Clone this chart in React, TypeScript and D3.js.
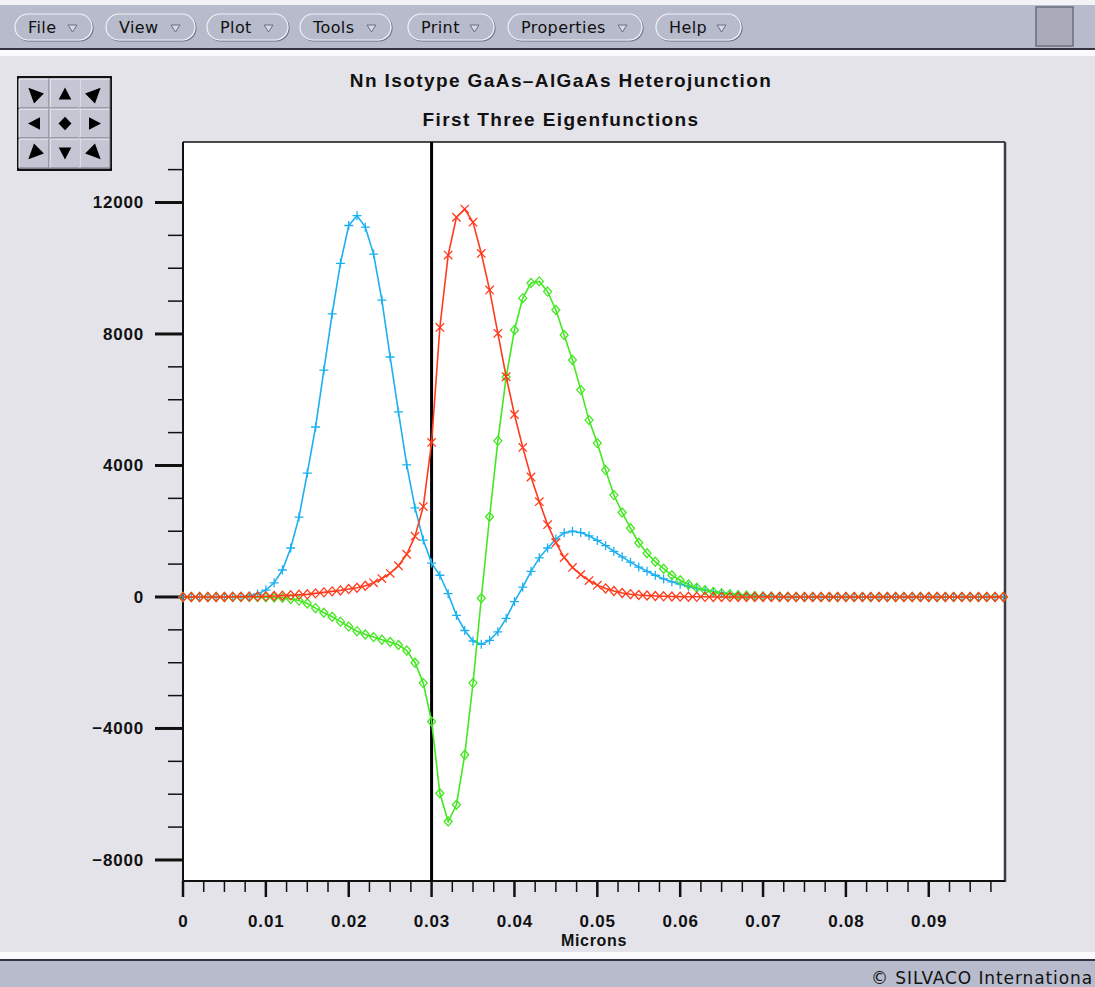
import React, { useEffect, useRef } from "react";
import * as d3 from "d3";

// sample positions (microns)
const microns = [
  0, 0.001, 0.002, 0.003, 0.004, 0.005, 0.006, 0.007, 0.008, 0.009,
  0.01, 0.011, 0.012, 0.013, 0.014, 0.015, 0.016, 0.017, 0.018, 0.019,
  0.02, 0.021, 0.022, 0.023, 0.024, 0.025, 0.026, 0.027, 0.028, 0.029,
  0.03, 0.031, 0.032, 0.033, 0.034, 0.035, 0.036, 0.037, 0.038, 0.039,
  0.04, 0.041, 0.042, 0.043, 0.044, 0.045, 0.046, 0.047, 0.048, 0.049,
  0.05, 0.051, 0.052, 0.053, 0.054, 0.055, 0.056, 0.057, 0.058, 0.059,
  0.06, 0.061, 0.062, 0.063, 0.064, 0.065, 0.066, 0.067, 0.068, 0.069,
  0.07, 0.071, 0.072, 0.073, 0.074, 0.075, 0.076, 0.077, 0.078, 0.079,
  0.08, 0.081, 0.082, 0.083, 0.084, 0.085, 0.086, 0.087, 0.088, 0.089,
  0.09, 0.091, 0.092, 0.093, 0.094, 0.095, 0.096, 0.097, 0.098, 0.099,
];

// first eigenfunction (blue, +)
const blueValues = [
  0, 0, 0, 0, 0, 0, 0, 5, 30, 90,
  210, 430, 820, 1490, 2430, 3770, 5170, 6900, 8610, 10150,
  11300, 11600, 11250, 10430, 9030, 7300, 5630, 4020, 2710, 1730,
  1030, 660, 100, -560, -1020, -1340, -1440, -1320, -1060, -650,
  -140, 300, 780, 1190, 1490, 1760, 1950, 2000, 1960, 1860,
  1720, 1560, 1390, 1220, 1060, 910, 780, 660, 550, 460,
  390, 320, 260, 210, 165, 130, 100, 75, 55, 40,
  30, 20, 12, 8, 5, 0, 0, 0, 0, 0,
  0, 0, 0, 0, 0, 0, 0, 0, 0, 0,
  0, 0, 0, 0, 0, 0, 0, 0, 0, 0,
];

// second eigenfunction (red, x)
const redValues = [
  0, 0, 0, 0, 0, 0, 5, 5, 10, 15,
  20, 30, 40, 50, 65, 80, 110, 140, 170, 200,
  240, 280, 340, 430, 560, 720, 950, 1300, 1850, 2750,
  4700, 8200, 10400, 11550, 11800, 11400, 10450, 9340, 8020, 6700,
  5550, 4550, 3650, 2900, 2200, 1650, 1200, 900, 680, 500,
  360, 260, 180, 120, 85, 60, 45, 30, 20, 15,
  10, 8, 5, 5, 0, 0, 0, 0, 0, 0,
  0, 0, 0, 0, 0, 0, 0, 0, 0, 0,
  0, 0, 0, 0, 0, 0, 0, 0, 0, 0,
  0, 0, 0, 0, 0, 0, 0, 0, 0, 0,
];

// third eigenfunction (green, diamond)
const greenValues = [
  0, 0, 0, 0, 0, 0, 0, 0, 0, -5,
  -10, -15, -25, -60, -110, -200, -340, -480, -600, -750,
  -900, -1040, -1140, -1220, -1300, -1370, -1460, -1630, -2000, -2620,
  -3790, -5970, -6830, -6320, -4800, -2620, -40, 2440, 4750, 6690,
  8120, 9090, 9550, 9600, 9290, 8730, 7970, 7210, 6300, 5380,
  4680, 3860, 3100, 2570, 2090, 1650, 1330, 1070, 860, 660,
  510, 380, 280, 205, 150, 110, 80, 55, 40, 28,
  18, 12, 8, 5, 0, 0, 0, 0, 0, 0,
  0, 0, 0, 0, 0, 0, 0, 0, 0, 0,
  0, 0, 0, 0, 0, 0, 0, 0, 0, 0,
];

const xTickValues = [0, 0.01, 0.02, 0.03, 0.04, 0.05, 0.06, 0.07, 0.08, 0.09];
const xTickLabels = ["0", "0.01", "0.02", "0.03", "0.04", "0.05", "0.06", "0.07", "0.08", "0.09"];
const yTickValues = [-8000, -4000, 0, 4000, 8000, 12000];
const yTickLabels = ["\u22128000", "\u22124000", "0", "4000", "8000", "12000"];
const junction = 0.03;

const menuLabels = ["File", "View", "Plot", "Tools", "Print", "Properties", "Help"];

const W = 1095;
const H = 987;
const panelBg = "#e4e3ea";
const barBg = "#b7bbcc";

const App = () => {
  const ref = useRef<SVGSVGElement>(null);

  useEffect(() => {
    const svg = d3.select(ref.current);
    svg.selectAll("*").remove();

    // window chrome
    svg.append("rect").attr("width", W).attr("height", H).attr("fill", panelBg);
    svg.append("rect").attr("width", W).attr("height", 5).attr("fill", "#f3f3f7");
    svg.append("rect").attr("y", 5).attr("width", W).attr("height", 43).attr("fill", barBg);
    svg.append("rect").attr("y", 48).attr("width", W).attr("height", 2).attr("fill", "#33343f");
    svg.append("rect").attr("y", 50).attr("width", W).attr("height", 6).attr("fill", "#fbfbfd");
    svg.append("rect").attr("y", 952).attr("width", W).attr("height", 7).attr("fill", "#fbfbfd");
    svg.append("rect").attr("y", 959).attr("width", W).attr("height", 2).attr("fill", "#33343f");
    svg.append("rect").attr("y", 961).attr("width", W).attr("height", H - 961).attr("fill", barBg);

    // menu buttons
    const menuLeft = [15, 106, 207, 300, 408, 508, 656];
    const menuRight = [92, 195, 288, 391, 494, 642, 741];
    const menus = svg.append("g");
    menuLabels.forEach((label, i) => {
      const l = menuLeft[i];
      const r = menuRight[i];
      menus.append("rect").attr("x", l + 1).attr("y", 15).attr("width", r - l).attr("height", 26)
        .attr("rx", 13).attr("fill", "none").attr("stroke", "#6d7185").attr("stroke-width", 1.2);
      menus.append("rect").attr("x", l).attr("y", 14).attr("width", r - l).attr("height", 26)
        .attr("rx", 13).attr("fill", barBg).attr("stroke", "#f2f3f8").attr("stroke-width", 1.2);
      menus.append("text").attr("x", l + 13).attr("y", 33).text(label)
        .attr("font-family", "DejaVu Sans").attr("font-size", 16).attr("letter-spacing", 0.4).attr("fill", "#111");
      menus.append("path")
        .attr("d", `M${r - 24},25 L${r - 15},25 L${r - 19.5},32 Z`)
        .attr("fill", "#d6d8e3").attr("stroke", "#6a6e82").attr("stroke-width", 1);
    });
    svg.append("rect").attr("x", 1036).attr("y", 7).attr("width", 37).attr("height", 39)
      .attr("fill", "#a9aaba").attr("stroke", "#6c6d7c").attr("stroke-width", 1.5);

    // pan pad
    const pad = svg.append("g");
    pad.append("rect").attr("x", 18).attr("y", 77).attr("width", 93).attr("height", 93)
      .attr("fill", "#8c8e9c").attr("stroke", "#111").attr("stroke-width", 2);
    const cols = [19, 50, 80];
    const rows = [79, 109, 139];
    const dirs = [
      [-1, -1], [0, -1], [1, -1],
      [-1, 0], [0, 0], [1, 0],
      [-1, 1], [0, 1], [1, 1],
    ];
    dirs.forEach(([dx, dy], i) => {
      const cx0 = cols[i % 3];
      const cy0 = rows[Math.floor(i / 3)];
      pad.append("rect").attr("x", cx0).attr("y", cy0).attr("width", 30).attr("height", 29).attr("fill", "#c4c6d4");
      pad.append("path").attr("d", `M${cx0},${cy0 + 29}V${cy0}H${cx0 + 30}`).attr("stroke", "#f4f4fa").attr("fill", "none");
      pad.append("path").attr("d", `M${cx0 + 30},${cy0}V${cy0 + 29}H${cx0}`).attr("stroke", "#70727f").attr("fill", "none");
      const cx = cx0 + 15;
      const cy = cy0 + 14.5;
      let d;
      if (dx === 0 && dy === 0) {
        d = `M${cx},${cy - 6.7}L${cx + 6.5},${cy}L${cx},${cy + 6.7}L${cx - 6.5},${cy}Z`;
      } else {
        const len = Math.hypot(dx, dy);
        const ux = dx / len;
        const uy = dy / len;
        const tip = len > 1 ? 8 : 6;
        const back = len > 1 ? 7 : 6;
        const hw = len > 1 ? 7 : 6.3;
        d = `M${cx + ux * tip},${cy + uy * tip}` +
          `L${cx - ux * back - uy * hw},${cy - uy * back + ux * hw}` +
          `L${cx - ux * back + uy * hw},${cy - uy * back - ux * hw}Z`;
      }
      pad.append("path").attr("d", d).attr("fill", "#000");
    });

    // plot
    const margin = { top: 142, right: 1005, bottom: 881, left: 183 };
    const xScale = d3.scaleLinear().domain([0, 0.0992]).range([margin.left, margin.right]);
    const yScale = d3.scaleLinear().domain([-8640, 13840]).range([margin.bottom, margin.top]);

    svg.append("rect").attr("x", margin.left).attr("y", margin.top)
      .attr("width", margin.right - margin.left).attr("height", margin.bottom - margin.top).attr("fill", "#fff");

    const labelFont = "Liberation Sans, Arial, sans-serif";

    // titles
    svg.append("text").attr("x", 561).attr("y", 87).attr("text-anchor", "middle")
      .attr("font-family", labelFont).attr("font-weight", "bold").attr("font-size", 19)
      .attr("letter-spacing", 1.4).attr("fill", "#111").text("Nn Isotype GaAs\u2013AlGaAs Heterojunction");
    svg.append("text").attr("x", 561).attr("y", 126).attr("text-anchor", "middle")
      .attr("font-family", labelFont).attr("font-weight", "bold").attr("font-size", 19)
      .attr("letter-spacing", 1.4).attr("fill", "#111").text("First Three Eigenfunctions");

    // y axis ticks
    const yMinor = d3.range(-8000, 13001, 1000);
    svg.append("g").selectAll("line").data(yMinor).enter().append("line")
      .attr("x1", (d) => (yTickValues.includes(d) ? 155 : 168)).attr("x2", margin.left)
      .attr("y1", (d) => yScale(d)).attr("y2", (d) => yScale(d))
      .attr("stroke", "#111").attr("stroke-width", (d) => (yTickValues.includes(d) ? 3 : 1.5));
    svg.append("g").selectAll("text").data(yTickValues).enter().append("text")
      .attr("x", 144).attr("y", (d) => yScale(d) + 6).attr("text-anchor", "end")
      .attr("font-family", labelFont).attr("font-weight", "bold").attr("font-size", 17)
      .attr("letter-spacing", 0.8).attr("fill", "#111").text((d, i) => yTickLabels[i]);

    // x axis ticks
    const xMinor = d3.range(0, 40).map((i) => i * 0.0025);
    svg.append("g").selectAll("line").data(xMinor).enter().append("line")
      .attr("x1", (d) => xScale(d)).attr("x2", (d) => xScale(d))
      .attr("y1", margin.bottom).attr("y2", (d, i) => (i % 4 === 0 ? 897 : 892))
      .attr("stroke", "#111").attr("stroke-width", (d, i) => (i % 4 === 0 ? 2.5 : 1.5));
    svg.append("g").selectAll("text").data(xTickValues).enter().append("text")
      .attr("x", (d) => xScale(d) + 0.4).attr("y", 927).attr("text-anchor", "middle")
      .attr("font-family", labelFont).attr("font-weight", "bold").attr("font-size", 17)
      .attr("letter-spacing", 0.8).attr("fill", "#111").text((d, i) => xTickLabels[i]);
    svg.append("text").attr("x", 594).attr("y", 946).attr("text-anchor", "middle")
      .attr("font-family", labelFont).attr("font-weight", "bold").attr("font-size", 16)
      .attr("letter-spacing", 0.7).attr("fill", "#111").text("Microns");

    // frame
    svg.append("line").attr("x1", margin.left).attr("x2", margin.right).attr("y1", margin.top).attr("y2", margin.top)
      .attr("stroke", "#111").attr("stroke-width", 1.5);
    svg.append("line").attr("x1", margin.right).attr("x2", margin.right).attr("y1", margin.top).attr("y2", margin.bottom + 1)
      .attr("stroke", "#3c3c46").attr("stroke-width", 2.5);
    svg.append("line").attr("x1", margin.left).attr("x2", margin.left).attr("y1", margin.top).attr("y2", margin.bottom + 1)
      .attr("stroke", "#111").attr("stroke-width", 2);
    svg.append("line").attr("x1", margin.left).attr("x2", margin.right).attr("y1", margin.bottom).attr("y2", margin.bottom)
      .attr("stroke", "#111").attr("stroke-width", 2);

    // heterojunction
    svg.append("line").attr("x1", xScale(junction)).attr("x2", xScale(junction))
      .attr("y1", margin.top).attr("y2", margin.bottom)
      .attr("stroke", "#000").attr("stroke-width", 3);

    const plusPath = "M-4.5,0H4.5M0,-4.5V4.5";
    const crossPath = "M-4.2,-4.2L4.2,4.2M-4.2,4.2L4.2,-4.2";
    const diamondPath = "M0,-4.5L4,0L0,4.5L-4,0Z";

    const series = [
      { values: blueValues, color: "#1cb0f0", marker: () => plusPath },
      { values: greenValues, color: "#44e822", marker: () => diamondPath },
      { values: redValues, color: "#ff3b1c", marker: (v: number) => (Math.abs(v) >= 350 ? crossPath : diamondPath) },
    ];

    const line = d3.line<number>()
      .x((d, i) => xScale(microns[i]))
      .y((d) => yScale(d));

    series.forEach((s) => {
      const g = svg.append("g");
      g.append("path").attr("d", line(s.values)).attr("fill", "none")
        .attr("stroke", s.color).attr("stroke-width", 1.6);
      g.selectAll("path.m").data(s.values).enter().append("path")
        .attr("class", "m")
        .attr("transform", (d, i) => `translate(${xScale(microns[i])},${yScale(d)})`)
        .attr("d", (d) => s.marker(d))
        .attr("fill", "none").attr("stroke", s.color).attr("stroke-width", 1.3);
    });

    // footer, as far as the window shows it
    svg.append("text").attr("x", 1093).attr("y", 984).attr("text-anchor", "end").attr("font-family", "DejaVu Sans")
      .attr("font-size", 17).attr("letter-spacing", 0.9).attr("fill", "#111").text("\u00a9 SILVACO Internationa");
  }, []);

  return (
    <svg ref={ref} width={W} height={H} style={{ position: "absolute", left: 0, top: 0, display: "block" }} />
  );
};

export default App;
